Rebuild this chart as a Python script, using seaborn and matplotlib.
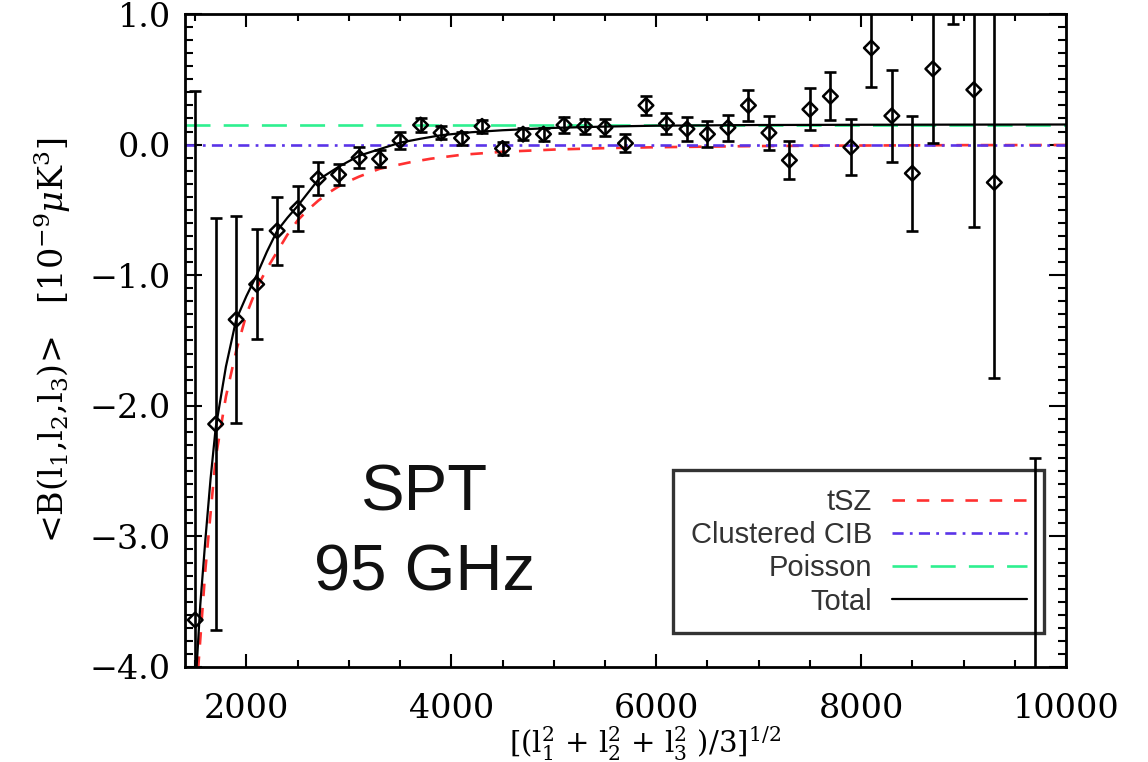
import numpy as np
import matplotlib
matplotlib.use("Agg")
import matplotlib.pyplot as plt
import seaborn as sns
from matplotlib.ticker import MultipleLocator, FuncFormatter

# ---------------- data ----------------
ell = [1500, 1700, 1900, 2100, 2300, 2500, 2700, 2900, 3100, 3300,
       3500, 3700, 3900, 4100, 4300, 4500, 4700, 4900, 5100, 5300,
       5500, 5700, 5900, 6100, 6300, 6500, 6700, 6900, 7100, 7300,
       7500, 7700, 7900, 8100, 8300, 8500, 8700, 8900, 9100, 9300, 9700]
bispec = [-3.64, -2.14, -1.34, -1.07, -0.66, -0.49, -0.26, -0.23, -0.10, -0.11,
          0.03, 0.15, 0.09, 0.05, 0.14, -0.03, 0.08, 0.08, 0.15, 0.14,
          0.13, 0.01, 0.30, 0.16, 0.12, 0.08, 0.13, 0.30, 0.09, -0.12,
          0.27, 0.37, -0.02, 0.74, 0.22, -0.22, 0.58, 1.45, 0.42, -0.29, -4.70]
bispec_err = [4.05, 1.58, 0.79, 0.42, 0.26, 0.17, 0.125, 0.08, 0.08, 0.065,
              0.065, 0.055, 0.05, 0.05, 0.05, 0.05, 0.045, 0.05, 0.06, 0.055,
              0.065, 0.07, 0.075, 0.08, 0.09, 0.10, 0.10, 0.12, 0.13, 0.145,
              0.16, 0.185, 0.215, 0.30, 0.35, 0.44, 0.57, 0.53, 1.05, 1.50, 2.30]

tsz_l = [1510, 1530, 1600, 1700, 1800, 1900, 2000, 2100, 2200, 2300, 2400, 2500,
         2600, 2700, 2800, 2900, 3000, 3100, 3300, 3600, 3800, 4100, 4500, 5000,
         5500, 6000, 7000, 8000, 9000, 10000]
tsz_v = [-4.20, -4.00, -3.25, -2.40, -1.93, -1.58, -1.30, -1.10, -0.95, -0.82,
         -0.69, -0.58, -0.50, -0.43, -0.37, -0.32, -0.28, -0.245, -0.185, -0.135,
         -0.108, -0.078, -0.055, -0.038, -0.027, -0.020, -0.011, -0.007, -0.004,
         -0.003]

tot_l = [1500, 1514, 1550, 1600, 1650, 1700, 1800, 1900, 2000, 2100, 2200, 2300,
         2400, 2500, 2700, 2900, 3100, 3300, 3500, 3700, 3900, 4200, 4500, 5000,
         5500, 6000, 7000, 8000, 9000, 10000]
tot_v = [-4.20, -4.00, -3.52, -3.02, -2.56, -2.17, -1.70, -1.34, -1.16, -1.00,
         -0.82, -0.66, -0.56, -0.47, -0.27, -0.17, -0.085, -0.035, 0.015, 0.045,
         0.072, 0.095, 0.11, 0.128, 0.138, 0.145, 0.150, 0.152, 0.153, 0.154]

cib_l = [1400, 10000]
cib_v = [0.0, 0.0]
poi_l = [1400, 10000]
poi_v = [0.152, 0.152]

labels = ["tSZ", "Clustered CIB", "Poisson", "Total"]

# ---------------- figure ----------------
sns.set_theme(style="ticks")
plt.rcParams["font.family"] = ["DejaVu Serif"]
plt.rcParams["mathtext.fontset"] = "dejavuserif"
plt.rcParams["lines.scale_dashes"] = False

fig = plt.figure(figsize=(11.48, 7.62), dpi=100)
fig.patch.set_facecolor("white")
ax = fig.add_axes([0.1611, 0.1247, 0.7675, 0.8569])
ax.set_facecolor("white")

sns.lineplot(x=tsz_l, y=tsz_v, ax=ax, color="#ff3030", lw=1.9,
             linestyle=(0, (9, 8.5)), sort=False, estimator=None, label=labels[0])
sns.lineplot(x=cib_l, y=cib_v, ax=ax, color="#5a34e8", lw=1.9,
             linestyle=(0, (8, 4.5, 2, 4.5)), sort=False, estimator=None, label=labels[1])
sns.lineplot(x=poi_l, y=poi_v, ax=ax, color="#2ef08f", lw=1.9,
             linestyle=(0, (18, 9.5)), sort=False, estimator=None, label=labels[2])
sns.lineplot(x=tot_l, y=tot_v, ax=ax, color="black", lw=1.6,
             sort=False, estimator=None, label=labels[3])

ax.errorbar(ell, bispec, yerr=bispec_err, fmt="none", ecolor="black",
            elinewidth=1.9, capsize=4.5, capthick=1.9, zorder=5)
sns.scatterplot(x=ell, y=bispec, ax=ax, marker="D", s=56, facecolors="none",
                edgecolors="black", linewidths=1.8, zorder=6, legend=False)

ax.set_xlim(1400, 10000)
ax.set_ylim(-4.0, 1.0)
ax.set_xlabel("")
ax.set_ylabel("")

ax.xaxis.set_major_locator(MultipleLocator(2000))
ax.xaxis.set_minor_locator(MultipleLocator(500))
ax.yaxis.set_major_locator(MultipleLocator(1.0))
ax.yaxis.set_minor_locator(MultipleLocator(0.1))
ax.yaxis.set_major_formatter(FuncFormatter(
    lambda v, p: ("\u2212" if v < -1e-9 else "") + "%.1f" % abs(v)))
ax.xaxis.set_major_formatter(FuncFormatter(lambda v, p: "%d" % v))

ax.tick_params(axis="both", which="both", direction="in", top=True, right=True,
               colors="black", width=1.5)
ax.tick_params(axis="x", which="major", length=9.5, pad=19, labelsize=24)
ax.tick_params(axis="x", which="minor", length=5)
ax.tick_params(axis="y", which="major", length=12, pad=10, labelsize=24)
ax.tick_params(axis="y", which="minor", length=5.5)
for sp in ax.spines.values():
    sp.set_linewidth(2.0)
    sp.set_color("black")
    sp.set_visible(True)

ax.set_ylabel("<B(l$_1$,l$_2$,l$_3$)>   [10$^{-9}\\mu$K$^3$]",
              fontsize=24, labelpad=12, color="black")
fig.text(0.562, 0.0115,
         "[(l$_1^2$ + l$_2^2$ + l$_3^2$ )/3]$^{1/2}$",
         fontsize=21, ha="center", va="baseline", color="black")

fig.text(0.370, 0.3307, "SPT", fontsize=47, ha="center", va="baseline",
         family=["Liberation Sans"], color="#111111")
fig.text(0.370, 0.2257, "95 GHz", fontsize=47, ha="center", va="baseline",
         family=["Liberation Sans"], color="#111111")

handles, labs = ax.get_legend_handles_labels()
order = [labs.index(l) for l in labels]
leg = ax.legend([handles[i] for i in order], [labs[i] for i in order],
                loc="lower right", bbox_to_anchor=(0.975, 0.052), borderaxespad=0,
                frameon=True, fancybox=False, edgecolor="black", facecolor="none",
                markerfirst=False, prop={"family": "Liberation Sans", "size": 21},
                labelcolor="#333333", handlelength=4.6, handletextpad=0.7,
                labelspacing=0.18, borderpad=0.6)
leg.get_frame().set_linewidth(2.4)
leg.set_zorder(2)

fig.savefig("out.png", dpi=100)
